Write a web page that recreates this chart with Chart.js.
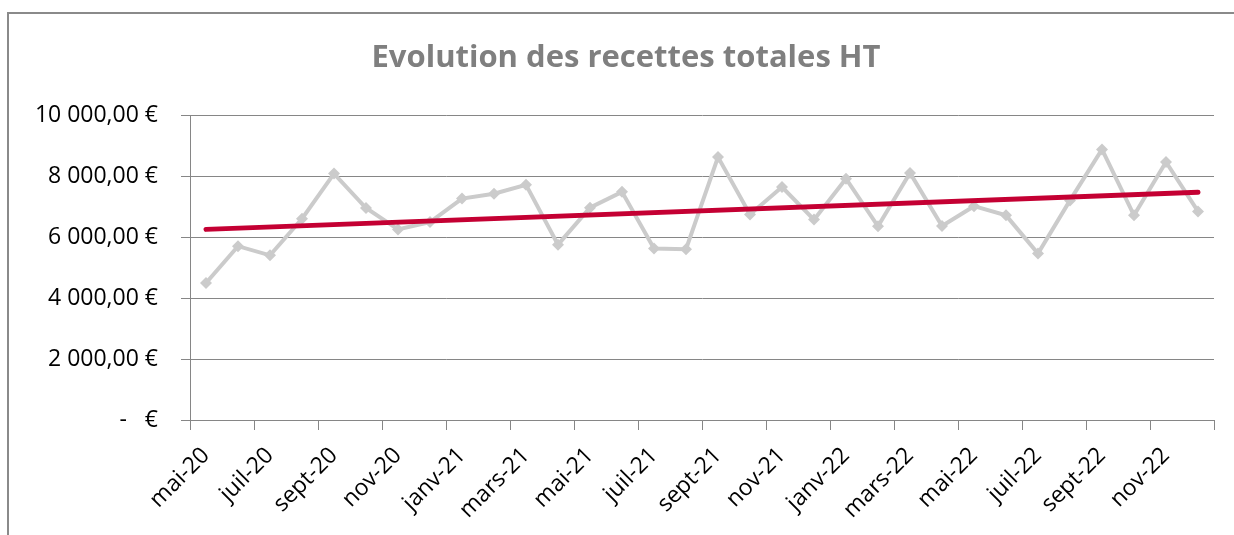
<!DOCTYPE html>
<html>
<head>
<meta charset="utf-8">
<script src="https://cdn.jsdelivr.net/npm/chart.js@4"></script>
<style>
  html, body { margin: 0; padding: 0; background: #fff; }
  #wrap { width: 1234px; height: 535px; }
</style>
</head>
<body>
<div id="wrap"><canvas id="chart" width="1234" height="535"></canvas></div>
<script>
const months = [
  "mai-20", "juin-20", "juil-20", "août-20", "sept-20", "oct-20", "nov-20", "déc-20",
  "janv-21", "févr-21", "mars-21", "avr-21", "mai-21", "juin-21", "juil-21", "août-21",
  "sept-21", "oct-21", "nov-21", "déc-21", "janv-22", "févr-22", "mars-22", "avr-22",
  "mai-22", "juin-22", "juil-22", "août-22", "sept-22", "oct-22", "nov-22", "déc-22",
];
const recettes = [
  4490, 5700, 5400, 6600, 8080, 6950, 6250, 6490,
  7260, 7420, 7710, 5750, 6960, 7480, 5620, 5600,
  8620, 6740, 7640, 6570, 7910, 6350, 8100, 6360,
  7010, 6710, 5460, 7200, 8870, 6710, 8460, 6840,
];
// linear trend line, first and last month
const trendEnds = [6250, 7470];
const yLabels = ["-   €", "2 000,00 €", "4 000,00 €", "6 000,00 €", "8 000,00 €", "10 000,00 €"];
const chartTitle = "Evolution des recettes totales HT";

const trendData = months.map((m, i) =>
  i === 0 ? trendEnds[0] : i === months.length - 1 ? trendEnds[1] : null
);

const axisGray = "#868686";
const labelFont = { family: "Open Sans", size: 23 };

// white background, frame round the whole chart and the title
const framePlugin = {
  id: "frame",
  beforeDraw(chart) {
    const c = chart.ctx;
    c.save();
    c.fillStyle = "#fff";
    c.fillRect(0, 0, chart.width, chart.height);
    c.strokeStyle = "#8a8a8a";
    c.lineWidth = 2;
    c.strokeRect(8, 13, 1300, 700);
    c.fillStyle = "#7f7f7f";
    c.font = "bold 31px 'Open Sans'";
    c.textAlign = "center";
    c.textBaseline = "middle";
    c.fillText(chartTitle, 626, 58);
    c.restore();
  },
};

new Chart(document.getElementById("chart"), {
  type: "line",
  data: {
    labels: months,
    datasets: [
      {
        label: "Tendance",
        data: trendData,
        spanGaps: true,
        borderColor: "#c40033",
        borderWidth: 5,
        pointRadius: 0,
        borderCapStyle: "round",
        order: 0,
      },
      {
        label: "Recettes totales HT",
        data: recettes,
        borderColor: "#cbcbcb",
        borderWidth: 4,
        pointStyle: "rectRot",
        pointRadius: 6,
        pointBackgroundColor: "#cbcbcb",
        pointBorderWidth: 0,
        tension: 0,
        order: 1,
      },
    ],
  },
  options: {
    responsive: false,
    animation: false,
    layout: { padding: { left: 0, right: 20, top: 115, bottom: 0 } },
    plugins: {
      legend: { display: false },
      tooltip: { enabled: false },
      title: { display: false },
    },
    scales: {
      x: {
        offset: true,
        grid: {
          offset: true,
          drawOnChartArea: false,
          tickLength: 10,
          color: (ctx) =>
            ctx.type !== "tick" || ctx.index % 2 === 0 ? axisGray : "rgba(0,0,0,0)",
        },
        border: { color: axisGray, width: 1 },
        ticks: {
          autoSkip: false,
          minRotation: 45,
          maxRotation: 45,
          padding: 12,
          color: "#000",
          font: labelFont,
          callback: (v, i) => (i % 2 === 0 ? months[i] : ""),
        },
        afterFit: (s) => {
          s.height = 115;
        },
      },
      y: {
        min: 0,
        max: 10000,
        ticks: {
          stepSize: 2000,
          padding: 23,
          color: "#000",
          font: labelFont,
          callback: (v, i) => yLabels[i],
        },
        grid: { color: axisGray, tickLength: 9 },
        border: { color: axisGray, width: 1 },
        afterFit: (s) => {
          s.width = 190;
        },
      },
    },
  },
  plugins: [framePlugin],
});
</script>
</body>
</html>
